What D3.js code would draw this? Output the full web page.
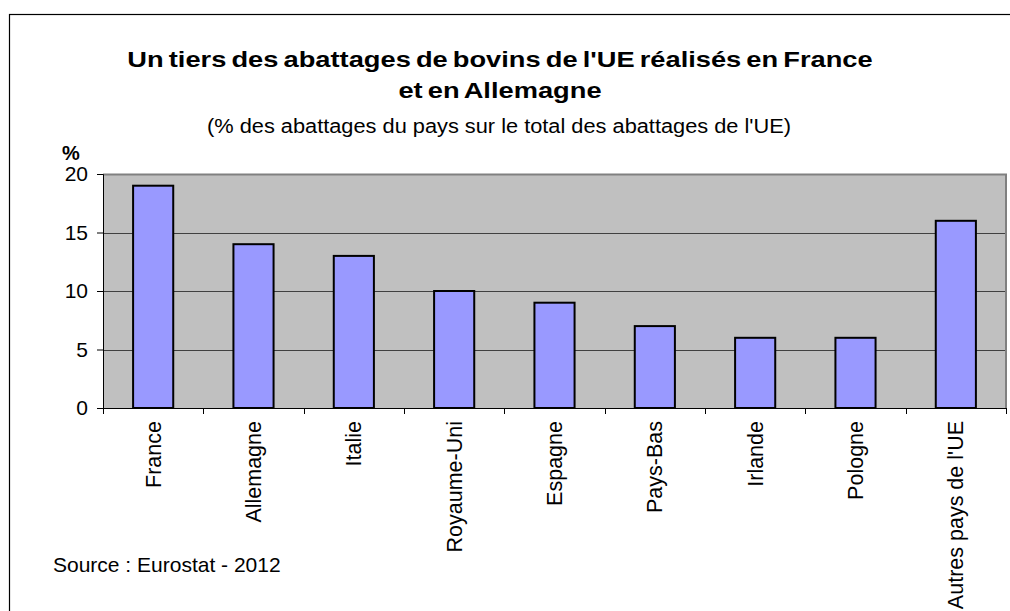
<!DOCTYPE html>
<html>
<head>
<meta charset="utf-8">
<script src="https://cdn.jsdelivr.net/npm/d3@7"></script>
<style>
    body { margin: 0; background: #fff; }
    text { font-family: "Liberation Sans", Arial, sans-serif; }
</style>
</head>
<body>
<div id="chart"></div>
<script>
const categories = ['France', 'Allemagne', 'Italie', 'Royaume-Uni', 'Espagne',
    'Pays-Bas', 'Irlande', 'Pologne', "Autres pays de l'UE"];
const values = [19, 14, 13, 10, 9, 7, 6, 6, 16];
const yTicks = [0, 5, 10, 15, 20];

const WIDTH = 1010;
const HEIGHT = 611;
const plot = { left: 103, right: 1006, top: 174, bottom: 408 };

const svg = d3.select('#chart')
    .append('svg')
    .attr('width', WIDTH)
    .attr('height', HEIGHT);

// outer frame (right and bottom edges fall outside the picture)
svg.append('rect')
    .attr('x', 9.5)
    .attr('y', 14.5)
    .attr('width', 1100)
    .attr('height', 800)
    .attr('fill', '#fff')
    .attr('stroke', '#000')
    .attr('stroke-width', 1.2);

// scales
const xScale = d3.scaleBand()
    .domain(categories)
    .range([plot.left, plot.right])
    .padding(0);

const yScale = d3.scaleLinear()
    .domain([0, 20])
    .range([plot.bottom, plot.top]);

// plot background
svg.append('rect')
    .attr('x', plot.left)
    .attr('y', plot.top)
    .attr('width', plot.right - plot.left)
    .attr('height', plot.bottom - plot.top)
    .attr('fill', '#c0c0c0');

// gridlines
svg.selectAll('.grid')
    .data(yTicks.filter(t => t > 0 && t < 20))
    .enter()
    .append('line')
    .attr('x1', plot.left)
    .attr('x2', plot.right)
    .attr('y1', d => Math.round(yScale(d)) + 0.5)
    .attr('y2', d => Math.round(yScale(d)) + 0.5)
    .attr('stroke', '#404040')
    .attr('stroke-width', 1);

// plot frame top / right
svg.append('path')
    .attr('d', `M${plot.left},${plot.top + 0.5}H${plot.right}V${plot.bottom}`)
    .attr('fill', 'none')
    .attr('stroke', '#808080')
    .attr('stroke-width', 2);

// bars
svg.selectAll('.bar')
    .data(values)
    .enter()
    .append('rect')
    .attr('x', (d, i) => xScale(categories[i]) + xScale.bandwidth() * 0.3)
    .attr('y', d => yScale(d))
    .attr('width', xScale.bandwidth() * 0.4)
    .attr('height', d => plot.bottom - yScale(d))
    .attr('fill', '#9999ff')
    .attr('stroke', '#000')
    .attr('stroke-width', 2);

// y axis
const yAxis = svg.append('g')
    .attr('transform', `translate(${plot.left},0)`)
    .call(d3.axisLeft(yScale).tickValues(yTicks).tickSize(6).tickPadding(9));
yAxis.select('.domain').attr('stroke', '#000');
yAxis.selectAll('.tick line').attr('stroke', '#000');
yAxis.selectAll('text')
    .attr('font-size', 21)
    .attr('fill', '#000')
    .style('font-family', '"Liberation Sans", Arial, sans-serif');

// x axis: ticks between bands
const xAxis = svg.append('g')
    .attr('transform', `translate(0,${plot.bottom})`);
xAxis.append('line')
    .attr('x1', plot.left)
    .attr('x2', plot.right)
    .attr('y1', 0.5)
    .attr('y2', 0.5)
    .attr('stroke', '#000');
xAxis.selectAll('.xtick')
    .data(categories.concat(['end']))
    .enter()
    .append('line')
    .attr('x1', (d, i) => Math.round(plot.left + i * xScale.step()) + 0.5)
    .attr('x2', (d, i) => Math.round(plot.left + i * xScale.step()) + 0.5)
    .attr('y1', 0)
    .attr('y2', 6)
    .attr('stroke', '#000');
xAxis.selectAll('.xlabel')
    .data(categories)
    .enter()
    .append('text')
    .attr('transform', d => `translate(${xScale(d) + xScale.bandwidth() / 2},13) rotate(-90)`)
    .attr('dy', '0.35em')
    .attr('text-anchor', 'end')
    .attr('font-size', 21.5)
    .attr('fill', '#000')
    .text(d => d);

// titles (the original is stretched horizontally)
const title = svg.append('g')
    .attr('transform', 'translate(500,0) scale(1.24,1)');
title.append('text')
    .attr('x', 0)
    .attr('y', 67)
    .attr('text-anchor', 'middle')
    .attr('font-size', 22)
    .attr('font-weight', 'bold')
    .attr('word-spacing', -2)
    .text("Un tiers des abattages de bovins de l'UE réalisés en France");
title.append('text')
    .attr('x', 0)
    .attr('y', 98)
    .attr('text-anchor', 'middle')
    .attr('font-size', 22)
    .attr('font-weight', 'bold')
    .attr('word-spacing', -2)
    .text('et en Allemagne');
svg.append('text')
    .attr('x', 499)
    .attr('y', 133)
    .attr('text-anchor', 'middle')
    .attr('font-size', 20)
    .attr('textLength', 584)
    .attr('lengthAdjust', 'spacingAndGlyphs')
    .text("(% des abattages du pays sur le total des abattages de l'UE)");

// unit label
svg.append('text')
    .attr('x', 62)
    .attr('y', 160)
    .attr('font-size', 20)
    .attr('font-weight', 'bold')
    .text('%');

// source
svg.append('text')
    .attr('x', 53)
    .attr('y', 572)
    .attr('font-size', 21)
    .text('Source : Eurostat - 2012');
</script>
</body>
</html>
